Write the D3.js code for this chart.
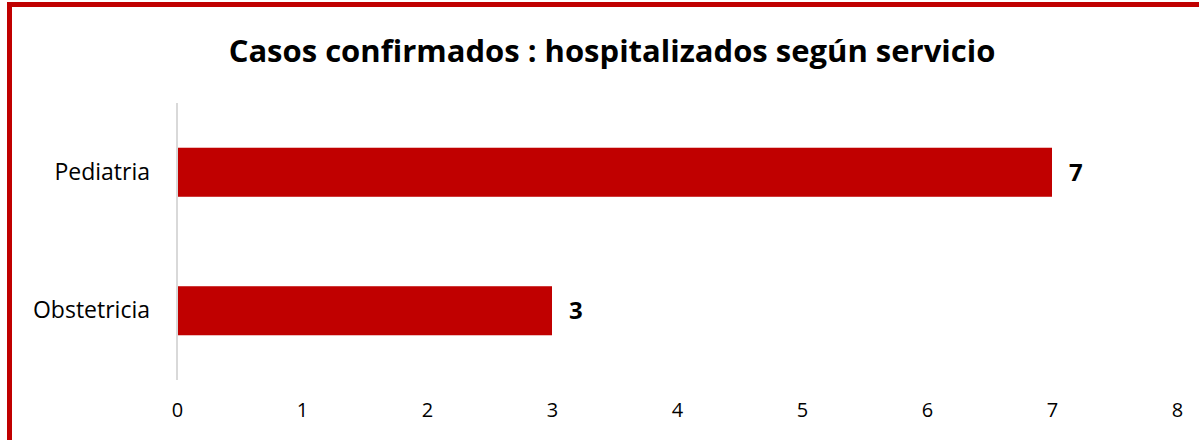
<!DOCTYPE html>
<html lang="es">
<head>
<meta charset="UTF-8">
<title>Casos confirmados : hospitalizados según servicio</title>
<script src="https://d3js.org/d3.v7.min.js"></script>
<style>
    body { margin: 0; background: #fff; }
    svg { display: block; font-family: "Open Sans", sans-serif; }
</style>
</head>
<body>
<div id="chart"></div>
<script>
    // data
    const services = ["Pediatria", "Obstetricia"];
    const cases = [7, 3];
    const xTicks = [0, 1, 2, 3, 4, 5, 6, 7, 8];
    const title = "Casos confirmados : hospitalizados según servicio";

    const width = 1199;
    const height = 440;
    const marginLeft = 177;
    const marginRight = 22;
    const plotTop = 103;
    const plotBottom = 380;
    const red = "#c00000";

    const svg = d3.select("#chart").append("svg")
        .attr("width", width)
        .attr("height", height);

    // frame around the chart
    svg.append("rect")
        .attr("x", 9.5)
        .attr("y", 4.5)
        .attr("width", width + 20)
        .attr("height", height + 20)
        .attr("fill", "#fff")
        .attr("stroke", red)
        .attr("stroke-width", 5);

    const x = d3.scaleLinear()
        .domain([0, 8])
        .range([marginLeft, width - marginRight]);

    const y = d3.scaleBand()
        .domain(services)
        .range([plotTop, plotBottom])
        .paddingInner(0.646)
        .paddingOuter(0.323);

    svg.append("text")
        .attr("x", 612)
        .attr("y", 62)
        .attr("text-anchor", "middle")
        .attr("font-size", 31)
        .attr("font-weight", "bold")
        .attr("fill", "#000")
        .text(title);

    // bars
    svg.append("g")
        .selectAll("rect")
        .data(services)
        .join("rect")
        .attr("x", x(0) + 1)
        .attr("y", d => y(d))
        .attr("width", (d, i) => x(cases[i]) - x(0) - 1)
        .attr("height", y.bandwidth())
        .attr("fill", red);

    // value labels
    svg.append("g")
        .selectAll("text")
        .data(services)
        .join("text")
        .attr("x", (d, i) => x(cases[i]) + 17)
        .attr("y", d => y(d) + y.bandwidth() / 2)
        .attr("dy", "0.36em")
        .attr("font-size", 24)
        .attr("font-weight", "bold")
        .attr("fill", "#000")
        .text((d, i) => cases[i]);

    // category axis
    svg.append("g")
        .attr("transform", `translate(${marginLeft},0)`)
        .call(d3.axisLeft(y).tickSize(0).tickPadding(27))
        .call(g => g.select(".domain").remove())
        .call(g => g.selectAll("text")
            .attr("font-family", "Open Sans, sans-serif")
            .attr("font-size", 23)
            .attr("fill", "#000"));

    svg.append("line")
        .attr("x1", x(0))
        .attr("x2", x(0))
        .attr("y1", plotTop)
        .attr("y2", plotBottom)
        .attr("stroke", "#d9d9d9")
        .attr("stroke-width", 2);

    // value axis (labels only)
    svg.append("g")
        .attr("transform", `translate(0,${plotBottom})`)
        .call(d3.axisBottom(x).tickValues(xTicks).tickSize(0).tickPadding(23))
        .call(g => g.select(".domain").remove())
        .call(g => g.selectAll("text")
            .attr("font-family", "Open Sans, sans-serif")
            .attr("font-size", 20)
            .attr("fill", "#000"));
</script>
</body>
</html>
